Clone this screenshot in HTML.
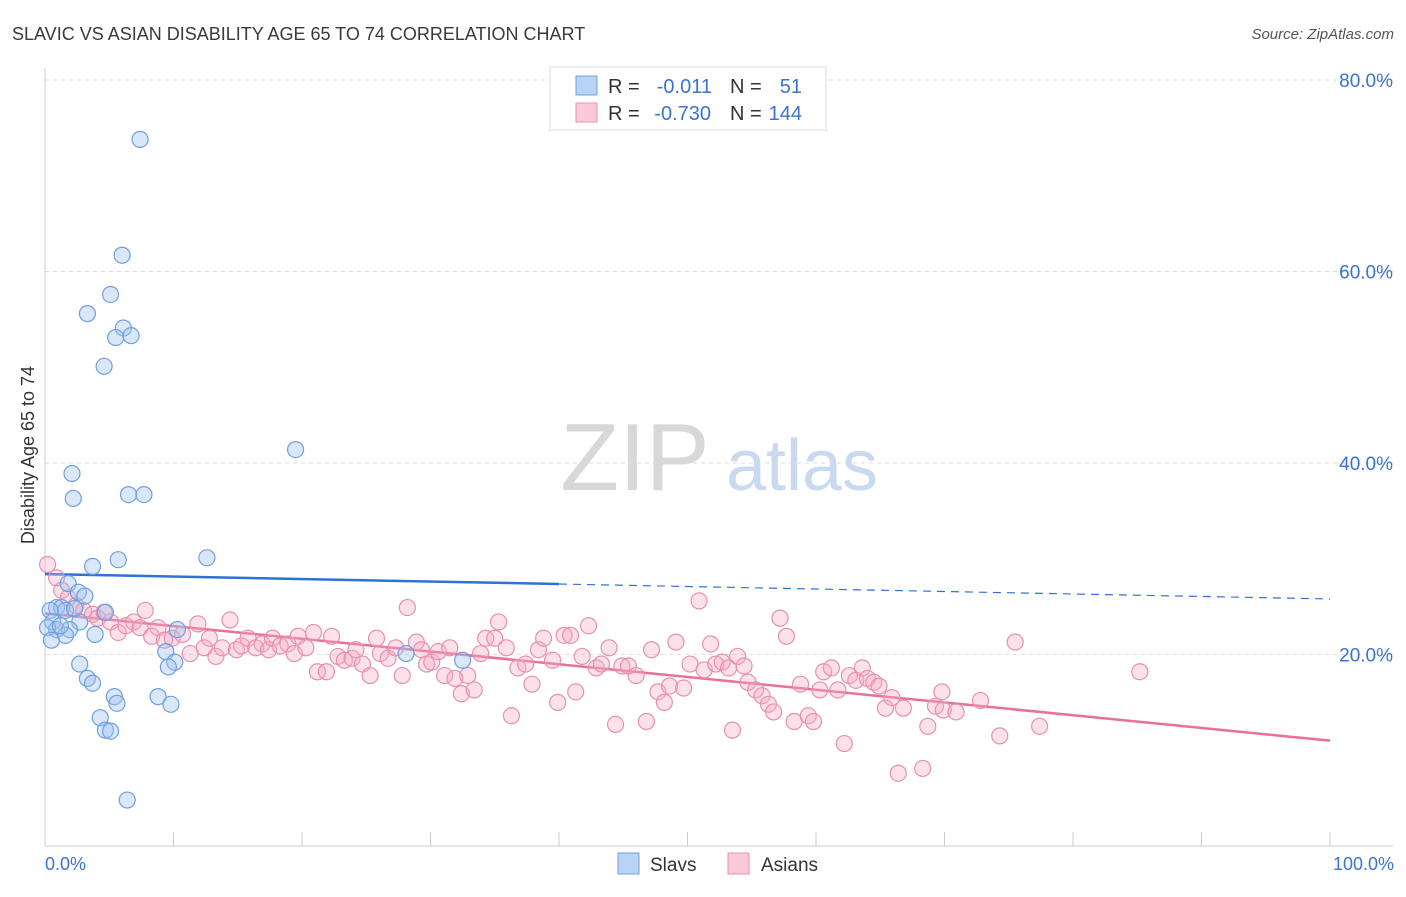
<!DOCTYPE html>
<html><head><meta charset="utf-8"><style>
body{margin:0;background:#fff;font-family:"Liberation Sans",sans-serif}
svg text{font-family:"Liberation Sans",sans-serif}
</style></head><body>
<svg id="chart" width="1406" height="892">
<text x="12" y="40" font-size="18" fill="#3a3a3a">SLAVIC VS ASIAN DISABILITY AGE 65 TO 74 CORRELATION CHART</text>
<text x="1394" y="39" font-size="15" fill="#555" font-style="italic" text-anchor="end">Source: ZipAtlas.com</text>
<g>
<text x="635" y="490" font-size="96" fill="#d8d8d8" font-family="Liberation Serif" text-anchor="middle">ZIP</text>
<text x="802" y="490" font-size="72" fill="#c9daf0" text-anchor="middle">atlas</text>
</g>
<g id="grid"></g><g id="axes"></g><g id="lines"></g><g id="pts"></g>
<text transform="translate(34,455) rotate(-90)" font-size="18" fill="#333" text-anchor="middle">Disability Age 65 to 74</text>
<text x="45" y="870" font-size="18" fill="#3b73d1">0.0%</text>
<text x="1394" y="870" font-size="18" fill="#3b73d1" text-anchor="end">100.0%</text>
<g>
<rect x="550" y="67" width="276" height="63" fill="#fff" stroke="#ddd"/>
<rect x="576" y="76" width="21" height="19" fill="#b8d3f5" stroke="#6fa0e0"/>
<rect x="576" y="103" width="21" height="19" fill="#fbc9d8" stroke="#e890ae"/>
<text x="608" y="93" font-size="20" fill="#333">R =</text><text x="712" y="93" font-size="20" fill="#3b73d1" text-anchor="end">-0.011</text>
<text x="730" y="93" font-size="20" fill="#333">N =</text><text x="802" y="93" font-size="20" fill="#3b73d1" text-anchor="end">51</text>
<text x="608" y="120" font-size="20" fill="#333">R =</text><text x="711" y="120" font-size="20" fill="#3b73d1" text-anchor="end">-0.730</text>
<text x="730" y="120" font-size="20" fill="#333">N =</text><text x="802" y="120" font-size="20" fill="#3b73d1" text-anchor="end">144</text>
</g>
<g>
<rect x="618" y="853" width="21" height="21" fill="#b8d3f5" stroke="#6fa0e0"/>
<text x="650" y="871" font-size="19" fill="#333">Slavs</text>
<rect x="728" y="853" width="21" height="21" fill="#fbc9d8" stroke="#e890ae"/>
<text x="761" y="871" font-size="19" fill="#333">Asians</text>
</g>
</svg>
<script>
const yTicks=[20,40,60,80];
const yTickLabels=["20.0%","40.0%","60.0%","80.0%"];
const slavX=[7.4,6.0,5.1,3.3,6.1,5.5,6.7,4.6,19.5,2.1,2.2,6.5,7.7,12.6,5.7,3.7,1.8,2.6,3.1,0.9,1.3,1.6,0.4,4.7,2.7,0.6,0.9,1.9,0.2,0.5,3.9,1.6,10.3,9.4,10.1,9.6,2.7,28.1,32.5,3.3,3.7,5.4,8.8,5.6,9.8,4.3,4.7,5.1,6.4,1.2,2.3];
const slavY=[73.8,61.7,57.6,55.6,54.1,53.1,53.3,50.1,41.4,38.9,36.3,36.7,36.7,30.1,29.9,29.2,27.4,26.5,26.1,24.9,24.9,24.6,24.6,24.4,23.4,23.4,22.6,22.6,22.8,21.5,22.1,22.0,22.6,20.3,19.2,18.7,19.0,20.1,19.4,17.5,17.0,15.6,15.6,14.9,14.8,13.4,12.1,12.0,4.8,23.0,24.8];
const asianX=[0.2,0.9,1.3,1.8,2.4,3.0,3.7,4.1,4.6,5.1,5.7,6.3,6.9,7.4,7.8,8.3,8.8,9.3,9.9,10.7,11.3,11.9,12.4,12.8,13.3,13.8,14.4,14.9,15.3,15.8,16.4,16.9,17.4,17.7,18.3,18.9,19.4,19.7,20.3,20.9,21.2,21.9,22.3,22.8,23.3,23.9,24.2,24.7,25.3,25.8,26.1,26.7,27.3,27.8,28.2,28.9,29.3,29.7,30.1,30.6,31.1,31.5,31.9,32.4,32.9,33.4,33.9,34.3,35.0,35.3,35.9,36.3,36.8,37.4,37.9,38.4,38.8,39.5,39.9,40.4,40.9,41.3,41.8,42.3,42.9,43.3,43.9,44.4,44.9,45.4,46.0,46.8,47.2,47.7,48.2,48.6,49.1,49.7,50.2,50.9,51.3,51.8,52.2,52.7,53.2,53.5,53.9,54.4,54.7,55.3,55.8,56.3,56.7,57.2,57.7,58.3,58.8,59.4,59.8,60.3,60.6,61.2,61.7,62.2,62.6,63.1,63.6,64.0,64.5,64.9,65.4,65.9,66.4,66.8,68.3,68.7,69.8,69.3,69.9,70.9,72.8,74.3,75.5,77.4,85.2];
const asianY=[29.4,28.0,26.7,25.9,25.1,24.6,24.2,23.8,24.4,23.4,22.3,23.0,23.4,22.8,24.6,21.9,22.8,21.5,21.7,22.1,20.1,23.2,20.7,21.7,19.8,20.7,23.6,20.5,20.9,21.7,20.7,21.1,20.5,21.7,20.9,21.1,20.1,21.9,20.7,22.3,18.2,18.2,21.9,19.8,19.4,19.6,20.5,19.0,17.8,21.7,20.1,19.6,20.7,17.8,24.9,21.3,20.5,19.0,19.2,20.3,17.8,20.7,17.5,15.9,17.8,16.3,20.1,21.7,21.7,23.4,20.7,13.6,18.6,19.0,16.9,20.5,21.7,19.4,15.0,22.0,22.0,16.1,19.8,23.0,18.6,19.0,20.7,12.7,18.8,18.8,17.8,13.0,20.5,16.1,15.0,16.7,21.3,16.5,19.0,25.6,18.4,21.1,19.0,19.2,18.6,12.1,19.8,18.8,17.1,16.3,15.7,14.8,14.0,23.8,21.9,13.0,16.9,13.6,13.0,16.3,18.2,18.6,16.3,10.7,17.8,17.3,18.6,17.5,17.1,16.7,14.4,15.5,7.6,14.4,8.1,12.5,16.1,14.6,14.2,14.0,15.2,11.5,21.3,12.5,18.2];
const slavTrend=[28.4,25.8];
const asianTrend=[24.3,11.0];
const NS="http://www.w3.org/2000/svg";
const X0=45,X1=1330,Y0=846,PX=9.575;
const xs=v=>X0+(X1-X0)*v/100, ys=v=>Y0-v*PX;
function mk(tag,attrs,parent){const e=document.createElementNS(NS,tag);for(const k in attrs)e.setAttribute(k,attrs[k]);document.getElementById(parent).appendChild(e);return e;}
yTicks.forEach((t,i)=>{
 const g=mk('line',{x1:45,x2:1393,y1:ys(t),y2:ys(t),stroke:'#ddd','stroke-dasharray':'4,4'},'grid');
 
 
 const tx=mk('text',{x:1393,y:ys(t)+7,'font-size':19,fill:'#3b73d1','text-anchor':'end'},'grid');
 tx.textContent=yTickLabels[i];
 
 
});
let a=mk('line',{x1:45,x2:45,y1:68,y2:846,stroke:'#ccc'},'axes');


a=mk('line',{x1:45,x2:1393,y1:846,y2:846,stroke:'#ccc'},'axes');


for(let i=0;i<=10;i++){const t=mk('line',{x1:xs(i*10),x2:xs(i*10),y1:832,y2:846,stroke:'#ccc'},'axes');
 
 }
function pts(X,Y,fill,stroke,name){X.forEach((x,i)=>{const c=mk('circle',{cx:xs(x),cy:ys(Y[i]),r:8,fill:fill,stroke:stroke,'stroke-width':1.2},'pts');
 
 });}
pts(asianX,asianY,'rgba(245,170,195,0.35)','#e890ae','asian-point');
pts(slavX,slavY,'rgba(160,196,240,0.4)','#6fa0e0','slav-point');
const sAt=x=>slavTrend[0]+(slavTrend[1]-slavTrend[0])*x/100;
let l=mk('line',{x1:xs(0),y1:ys(sAt(0)),x2:xs(40),y2:ys(sAt(40)),stroke:'#2f72d6','stroke-width':2.5},'lines');


l=mk('line',{x1:xs(40),y1:ys(sAt(40)),x2:xs(100),y2:ys(sAt(100)),stroke:'#2f72d6','stroke-width':1.2,'stroke-dasharray':'8,6'},'lines');


l=mk('line',{x1:xs(0),y1:ys(asianTrend[0]),x2:xs(100),y2:ys(asianTrend[1]),stroke:'#e8709a','stroke-width':2.5},'lines');


</script>
</body></html>
